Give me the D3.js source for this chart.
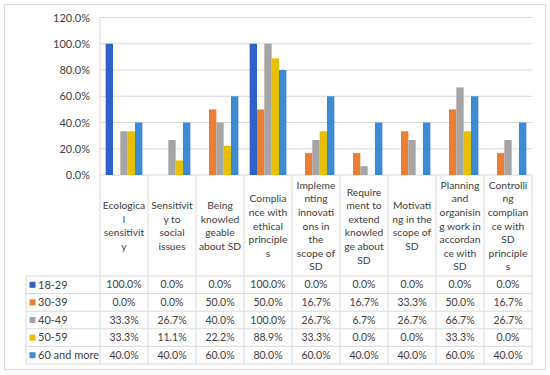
<!DOCTYPE html>
<html>
<head>
<meta charset="utf-8">
<script src="https://cdn.jsdelivr.net/npm/d3@7"></script>
<style>
  body { margin: 0; background: #fff; }
  svg text { font-family: Lato, "Open Sans", sans-serif; }
</style>
</head>
<body>
<div id="chart"></div>
<script>
// category labels, already wrapped as in the original
const categories = [
  ["Ecologica", "l", "sensitivit", "y"],
  ["Sensitivit", "y to", "social", "issues"],
  ["Being", "knowled", "geable", "about SD"],
  ["Complia", "nce with", "ethical", "principle", "s"],
  ["Impleme", "nting", "innovati", "ons in", "the", "scope of", "SD"],
  ["Require", "ment to", "extend", "knowled", "ge about", "SD"],
  ["Motivati", "ng in the", "scope of", "SD"],
  ["Planning", "and", "organisin", "g work in", "accordan", "ce with", "SD"],
  ["Controlli", "ng", "complian", "ce with", "SD", "principle", "s"]
];

const seriesNames = ["18-29", "30-39", "40-49", "50-59", "60 and more"];
const seriesColors = ["#2f62c6", "#ed7d31", "#a5a5a5", "#e6c000", "#3a8ad6"];

const age18 = [1.0, 0, 0, 1.0, 0, 0, 0, 0, 0];
const age30 = [0, 0, 0.5, 0.5, 0.167, 0.167, 0.333, 0.5, 0.167];
const age40 = [0.333, 0.267, 0.4, 1.0, 0.267, 0.067, 0.267, 0.667, 0.267];
const age50 = [0.333, 0.111, 0.222, 0.889, 0.333, 0, 0, 0.333, 0];
const age60 = [0.4, 0.4, 0.6, 0.8, 0.6, 0.4, 0.4, 0.6, 0.4];

const yTicks = [0, 0.2, 0.4, 0.6, 0.8, 1.0, 1.2];

const series = [age18, age30, age40, age50, age60];

const width = 550, height = 375;
const plot = { left: 100, right: 532, top: 17.5, bottom: 175 };
const table = { left: 26, top: 276, rowH: 17.6 };
const gridColor = "#d9d9d9";
const textColor = "#404040";

const svg = d3.select("#chart").append("svg")
  .attr("width", width)
  .attr("height", height);

// outer frame
svg.append("rect")
  .attr("x", 4.5).attr("y", 4.5)
  .attr("width", 541).attr("height", 365)
  .attr("fill", "none")
  .attr("stroke", gridColor);

const x0 = d3.scaleBand()
  .domain(d3.range(categories.length))
  .range([plot.left, plot.right]);

const x1 = d3.scaleBand()
  .domain(d3.range(seriesNames.length))
  .range([0, x0.bandwidth()])
  .paddingOuter(0.77);

const y = d3.scaleLinear()
  .domain([0, 1.2])
  .range([plot.bottom, plot.top]);

// gridlines
svg.append("g")
  .selectAll("line")
  .data(yTicks)
  .join("line")
  .attr("x1", plot.left).attr("x2", plot.right)
  .attr("y1", d => y(d)).attr("y2", d => y(d))
  .attr("stroke", gridColor);

// y axis labels
const yAxis = d3.axisLeft(y)
  .tickValues(yTicks)
  .tickFormat(d3.format(".1%"))
  .tickSize(0)
  .tickPadding(10);

svg.append("g")
  .attr("transform", `translate(${plot.left},0)`)
  .call(yAxis)
  .call(g => g.select(".domain").remove())
  .selectAll("text")
  .attr("fill", textColor)
  .style("font-size", "11px")
  .style("font-family", "Lato, sans-serif");

// bars
const barG = svg.append("g");
series.forEach((vals, si) => {
  barG.append("g")
    .attr("fill", seriesColors[si])
    .selectAll("rect")
    .data(vals)
    .join("rect")
    .attr("x", (d, i) => x0(i) + x1(si))
    .attr("y", d => y(d))
    .attr("width", x1.bandwidth())
    .attr("height", d => y(0) - y(d));
});

const tableBottom = table.top + table.rowH * seriesNames.length;

// vertical lines: axis + category dividers
svg.append("line")
  .attr("x1", plot.left).attr("x2", plot.left)
  .attr("y1", plot.top).attr("y2", tableBottom)
  .attr("stroke", gridColor);

svg.append("g")
  .selectAll("line")
  .data(d3.range(1, categories.length + 1))
  .join("line")
  .attr("x1", i => x0.step() * i + plot.left)
  .attr("x2", i => x0.step() * i + plot.left)
  .attr("y1", plot.bottom).attr("y2", tableBottom)
  .attr("stroke", gridColor);

// category labels
const lineH = 13.6;
const labelMid = (plot.bottom + table.top) / 2 + 4;
svg.append("g")
  .selectAll("text")
  .data(categories)
  .join("text")
  .attr("text-anchor", "middle")
  .attr("fill", textColor)
  .style("font-size", "10.3px")
  .each(function (lines, i) {
    const t = d3.select(this);
    const start = labelMid - (lines.length - 1) * lineH / 2;
    lines.forEach((ln, k) => {
      t.append("tspan")
        .attr("x", x0(i) + x0.bandwidth() / 2)
        .attr("y", start + k * lineH)
        .text(ln);
    });
  });

// table rows
const rowLines = d3.range(seriesNames.length + 1);
svg.append("g")
  .selectAll("line")
  .data(rowLines)
  .join("line")
  .attr("x1", table.left).attr("x2", plot.right)
  .attr("y1", r => table.top + r * table.rowH)
  .attr("y2", r => table.top + r * table.rowH)
  .attr("stroke", gridColor);

svg.append("line")
  .attr("x1", table.left).attr("x2", table.left)
  .attr("y1", table.top).attr("y2", tableBottom)
  .attr("stroke", gridColor);

const fmt = d3.format(".1%");
const rows = svg.append("g")
  .selectAll("g")
  .data(series)
  .join("g")
  .attr("transform", (d, si) => `translate(0,${table.top + si * table.rowH + table.rowH / 2})`);

rows.append("rect")
  .attr("x", 29.5).attr("y", -3)
  .attr("width", 6).attr("height", 6)
  .attr("fill", (d, si) => seriesColors[si]);

rows.append("text")
  .attr("x", 38)
  .attr("dy", "0.35em")
  .attr("fill", textColor)
  .style("font-size", "11px")
  .text((d, si) => seriesNames[si]);

rows.selectAll(".val")
  .data(d => d)
  .join("text")
  .attr("class", "val")
  .attr("x", (d, i) => x0(i) + x0.bandwidth() / 2)
  .attr("dy", "0.35em")
  .attr("text-anchor", "middle")
  .attr("fill", textColor)
  .style("font-size", "10.5px")
  .text(d => fmt(d));
</script>
</body>
</html>
